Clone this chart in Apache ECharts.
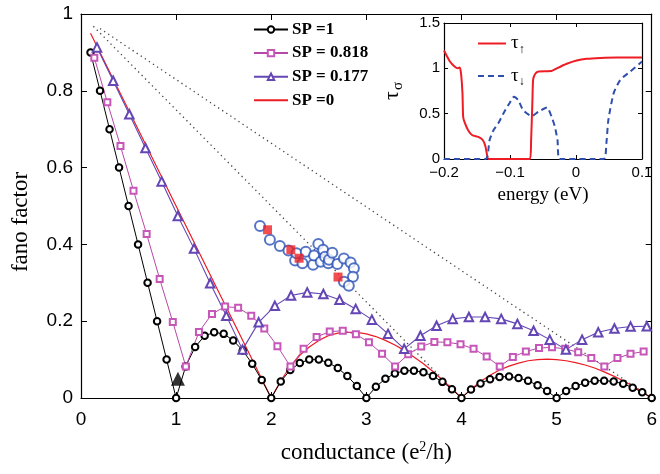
<!DOCTYPE html>
<html><head><meta charset="utf-8">
<script src="https://cdn.jsdelivr.net/npm/echarts@6/dist/echarts.min.js"></script>
<style>html,body{margin:0;padding:0;background:#fff}#c{width:660px;height:474px}</style>
</head><body><div id="c"></div>
<script>
// ---- main panel: SP = 1 (black circles)
const sp1X = [0.1,0.2,0.3,0.4,0.5,0.6,0.7,0.8,0.9,1.0,1.1,1.2,1.3,1.4,1.5,1.6,1.7,1.8,1.9,2.0,2.1,2.2,2.3,2.4,2.5,2.6,2.7,2.8,2.9,3.0,3.1,3.2,3.3,3.4,3.5,3.6,3.7,3.8,3.9,4.0,4.1,4.2,4.3,4.4,4.5,4.6,4.7,4.8,4.9,5.0,5.1,5.2,5.3,5.4,5.5,5.6,5.7,5.8,5.9,6.0];
const sp1Y = [0.9,0.8,0.7,0.6,0.5,0.4,0.3,0.2,0.1,0,0.082,0.133,0.162,0.171,0.167,0.15,0.124,0.089,0.047,0,0.043,0.073,0.091,0.1,0.1,0.092,0.078,0.057,0.031,0,0.029,0.05,0.064,0.071,0.071,0.067,0.057,0.042,0.023,0,0.022,0.038,0.049,0.055,0.056,0.052,0.045,0.033,0.018,0,0.018,0.031,0.04,0.045,0.045,0.043,0.037,0.027,0.015,0];
// SP = 0.818 (magenta squares)
const sp818X = [0.14,0.277,0.415,0.552,0.69,0.827,0.965,1.102,1.24,1.377,1.515,1.652,1.79,1.927,2.065,2.202,2.34,2.477,2.615,2.752,2.89,3.027,3.165,3.302,3.44,3.577,3.715,3.852,3.99,4.127,4.265,4.402,4.54,4.677,4.815,4.952,5.09,5.227,5.365,5.502,5.64,5.777,5.915];
const sp818Y = [0.886,0.77,0.656,0.54,0.427,0.31,0.198,0.082,0.172,0.219,0.238,0.235,0.214,0.181,0.135,0.082,0.128,0.159,0.173,0.175,0.166,0.145,0.115,0.082,0.114,0.134,0.146,0.145,0.14,0.128,0.108,0.082,0.107,0.121,0.13,0.132,0.128,0.119,0.104,0.082,0.104,0.115,0.121];
// SP = 0.177 (purple triangles)
const sp177X = [0.168,0.338,0.508,0.678,0.848,1.018,1.188,1.358,1.528,1.698,1.868,2.038,2.208,2.378,2.548,2.718,2.888,3.058,3.228,3.398,3.568,3.738,3.908,4.078,4.248,4.418,4.588,4.758,4.928,5.098,5.268,5.438,5.608,5.778,5.948];
const sp177Y = [0.913,0.826,0.739,0.651,0.564,0.474,0.389,0.299,0.214,0.126,0.197,0.24,0.267,0.275,0.271,0.256,0.232,0.204,0.167,0.128,0.162,0.188,0.206,0.211,0.211,0.206,0.193,0.175,0.152,0.126,0.152,0.171,0.181,0.186,0.187];
// SP = 0 (red line)
const sp0X = [0.1,2.0,2.1,2.2,2.3,2.4,2.5,2.6,2.7,2.8,2.9,3.0,3.1,3.2,3.3,3.4,3.5,3.6,3.7,3.8,3.9,4.0,4.1,4.2,4.3,4.4,4.5,4.6,4.7,4.8,4.9,5.0,5.1,5.2,5.3,5.4,5.5,5.6,5.7,5.8,5.9,6.0];
const sp0Y = [0.95,0,0.045,0.082,0.111,0.133,0.15,0.162,0.169,0.171,0.171,0.167,0.16,0.15,0.138,0.124,0.107,0.089,0.069,0.047,0.024,0,0.023,0.043,0.059,0.073,0.083,0.091,0.097,0.1,0.101,0.1,0.097,0.092,0.086,0.078,0.068,0.057,0.045,0.031,0.016,0];
// dotted guide lines
const dotInnerX = [0.13, 4.0];
const dotInnerY = [0.968, 0];
const dotOuterX = [0.2, 6.0];
const dotOuterY = [0.962, 0];
// blue open circles
const blueX = [1.882,1.986,2.091,2.181,2.251,2.265,2.328,2.363,2.44,2.45,2.495,2.52,2.545,2.565,2.6,2.607,2.642,2.695,2.764,2.834,2.869,2.859,2.764,2.816];
const blueY = [0.448,0.412,0.396,0.384,0.358,0.377,0.351,0.381,0.347,0.371,0.401,0.355,0.386,0.368,0.351,0.36,0.378,0.349,0.363,0.353,0.338,0.316,0.303,0.292];
// red filled squares
const redSqX = [1.961, 2.206, 2.293, 2.702];
const redSqY = [0.438, 0.386, 0.364, 0.315];
// black filled triangle
const triX = [1.019];
const triY = [0.05];
// ---- inset
const tauUpE = [-0.2,-0.191,-0.184,-0.179,-0.176,-0.174,-0.172,-0.171,-0.169,-0.1635,-0.157,-0.148,-0.141,-0.137,-0.134,-0.132,-0.0698,-0.068,-0.066,-0.065,-0.062,-0.057,-0.044,-0.037,-0.029,-0.014,0.001,0.016,0.037,0.062,0.1];
const tauUp  = [1.197,1.075,1.02,1.0,1.01,0.93,0.724,0.466,0.41,0.318,0.262,0.244,0.207,0.133,0.015,0,0,0.207,0.65,0.872,0.938,0.965,0.968,0.97,1.0,1.05,1.086,1.105,1.115,1.12,1.12];
const tauDnE = [-0.2,-0.137,-0.131,-0.125,-0.118,-0.110,-0.101,-0.094,-0.0875,-0.08,-0.067,-0.057,-0.044,-0.037,-0.032,-0.028,-0.025,0.042,0.046,0.049,0.057,0.067,0.082,0.1];
const tauDn  = [0,0,0.207,0.318,0.39,0.502,0.613,0.687,0.65,0.539,0.473,0.521,0.569,0.466,0.355,0.207,0,0,0.17,0.429,0.724,0.872,0.964,1.075];
// tick values
const mainXTicks = [0,1,2,3,4,5,6];
const mainYTicks = [0,0.2,0.4,0.6,0.8,1];
const insetXTicks = [-0.2,-0.1,0,0.1];
const insetYTicks = [0,0.5,1,1.5];

const zip = (a, b) => a.map((v, i) => [v, b[i]]);
const SANS = 'Liberation Sans, Arial, Helvetica, sans-serif';
const SERIF = 'Liberation Serif, Times New Roman, serif';

const chart = echarts.init(document.getElementById('c'), null, {renderer: 'canvas'});
const mk = (extra, tickLen) => Object.assign({
  type: 'value',
  axisLine: {show: true, onZero: false, lineStyle: {color: '#000', width: 1.2}},
  axisTick: {show: true, inside: true, length: tickLen, lineStyle: {color: '#000', width: 1}},
  splitLine: {show: false}
}, extra);
const fmtInsetX = v => Math.abs(v) < 1e-9 ? '0' : (v < 0 ? '\u2212' : '') + Math.abs(v).toFixed(1);

chart.setOption({
  animation: false,
  backgroundColor: '#fff',
  grid: [
    {left: 81, top: 14, width: 573, height: 384, containLabel: false},
    {left: 444, top: 23, width: 198, height: 136, show: true, backgroundColor: '#fff', borderWidth: 0, z: 5}
  ],
  xAxis: [
    mk({gridIndex: 0, position: 'bottom', min: mainXTicks[0], max: mainXTicks[mainXTicks.length-1], interval: 1,
      axisLabel: {fontFamily: SANS, fontSize: 19, color: '#000', margin: 12},
      name: '{a|conductance (e}{s|2}{a|/h)}', nameLocation: 'middle', nameGap: 42,
      nameTextStyle: {rich: {a: {fontFamily: SERIF, fontSize: 23, color: '#000'}, s: {fontFamily: SERIF, fontSize: 14, color: '#000', padding: [0,0,12,0]}}}
    }, 6),
    mk({gridIndex: 0, position: 'top', min: 0, max: 6, interval: 1, axisLabel: {show: false}}, 6),
    mk({gridIndex: 1, position: 'bottom', min: insetXTicks[0], max: insetXTicks[insetXTicks.length-1], interval: 0.1,
      axisLabel: {fontFamily: SANS, fontSize: 15, color: '#000', margin: 6, formatter: fmtInsetX},
      name: 'energy (eV)', nameLocation: 'middle', nameGap: 27,
      nameTextStyle: {fontFamily: SERIF, fontSize: 19, color: '#000'}, z: 6
    }, 4),
    mk({gridIndex: 1, position: 'top', min: -0.2, max: 0.1, interval: 0.1, axisLabel: {show: false}, z: 6}, 4)
  ],
  yAxis: [
    mk({gridIndex: 0, position: 'left', min: mainYTicks[0], max: mainYTicks[mainYTicks.length-1], interval: 0.2,
      axisLabel: {fontFamily: SANS, fontSize: 19, color: '#000', margin: 8}}, 6),
    mk({gridIndex: 0, position: 'right', min: 0, max: 1, interval: 0.2, axisLabel: {show: false}}, 6),
    mk({gridIndex: 1, position: 'left', min: insetYTicks[0], max: insetYTicks[insetYTicks.length-1], interval: 0.5,
      axisLabel: {fontFamily: SANS, fontSize: 15, color: '#000', margin: 4},
      name: '{a|\u03c4}{s|\u03c3}', nameLocation: 'middle', nameGap: 38,
      nameTextStyle: {rich: {a: {fontFamily: SERIF, fontSize: 22, color: '#000'}, s: {fontFamily: SERIF, fontSize: 15, color: '#000', padding: [12,0,0,1]}}}, z: 6
    }, 4),
    mk({gridIndex: 1, position: 'right', min: 0, max: 1.5, interval: 0.5, axisLabel: {show: false}, z: 6}, 4)
  ],
  legend: [
    {
      data: ['SP =1', 'SP = 0.818', 'SP = 0.177', {name: 'SP =0', itemStyle: {opacity: 0}}],
      orient: 'vertical', left: 248, top: 16, itemWidth: 34, itemHeight: 8, itemGap: 6.6,
      textStyle: {fontFamily: SERIF, fontWeight: 'bold', fontSize: 17, color: '#000', lineHeight: 14, padding: [0,0,0,-1]},
      selectedMode: false
    },
    {
      data: [{name: '\u03c4\u2191', itemStyle: {opacity: 0}}, {name: '\u03c4\u2193', itemStyle: {opacity: 0}}],
      orient: 'vertical', left: 472, top: 29, itemWidth: 28, itemHeight: 20, itemGap: 11,
      selectedMode: false,
      formatter: n => '{a|\u03c4}{s|' + n.slice(1) + '}',
      textStyle: {rich: {a: {fontFamily: SERIF, fontSize: 19, color: '#000'}, s: {fontFamily: SANS, fontSize: 12, color: '#000', padding: [12,0,0,0]}}},
      z: 7
    }
  ],
  graphic: [
    {type: 'text', x: 21, y: 222, rotation: Math.PI/2, z: 10,
      style: {text: 'fano factor', font: '23px ' + SERIF, fill: '#000', textAlign: 'center', textVerticalAlign: 'middle'}}
  ],
  series: [
    {name: 'dotInner', type: 'line', xAxisIndex: 0, yAxisIndex: 0, data: zip(dotInnerX, dotInnerY), showSymbol: false, symbol: 'none',
      lineStyle: {color: '#444', width: 1.3, type: [1.3, 3.6]}, z: 1, silent: true},
    {name: 'dotOuter', type: 'line', xAxisIndex: 0, yAxisIndex: 0, data: zip(dotOuterX, dotOuterY), showSymbol: false, symbol: 'none',
      lineStyle: {color: '#444', width: 1.3, type: [1.3, 3.6]}, z: 1, silent: true},
    {name: 'SP =0', type: 'line', xAxisIndex: 0, yAxisIndex: 0, data: zip(sp0X, sp0Y), symbol: 'none',
      lineStyle: {color: '#ec1c24', width: 1.2}, itemStyle: {color: '#ec1c24'}, z: 3},
    {name: 'SP =1', type: 'line', xAxisIndex: 0, yAxisIndex: 0, data: zip(sp1X, sp1Y), symbol: 'emptyCircle', symbolSize: 6.5,
      lineStyle: {color: '#000', width: 1}, itemStyle: {color: '#000', borderWidth: 0.9}, z: 4},
    {name: 'SP = 0.818', type: 'line', xAxisIndex: 0, yAxisIndex: 0, data: zip(sp818X, sp818Y), symbol: 'emptyRect', symbolSize: 6,
      lineStyle: {color: '#b848a8', width: 1}, itemStyle: {color: '#c656b8', borderWidth: 1}, z: 4},
    {name: 'SP = 0.177', type: 'line', xAxisIndex: 0, yAxisIndex: 0, data: zip(sp177X, sp177Y), symbol: 'emptyTriangle', symbolSize: 8.5,
      lineStyle: {color: '#6446b4', width: 1.1}, itemStyle: {color: '#6446b4', borderWidth: 1}, z: 4},
    {name: 'blue', type: 'scatter', xAxisIndex: 0, yAxisIndex: 0, data: zip(blueX, blueY), symbol: 'emptyCircle', symbolSize: 10,
      itemStyle: {color: '#2c52b8', borderWidth: 1.2}, z: 5},
    {name: 'redsq', type: 'scatter', xAxisIndex: 0, yAxisIndex: 0, data: zip(redSqX, redSqY), symbol: 'rect', symbolSize: 9,
      itemStyle: {color: '#ee2226'}, z: 6},
    {name: 'tri', type: 'scatter', xAxisIndex: 0, yAxisIndex: 0, data: zip(triX, triY), symbol: 'triangle', symbolSize: 14,
      itemStyle: {color: '#000'}, z: 6},
    {name: '\u03c4\u2191', type: 'line', xAxisIndex: 2, yAxisIndex: 2, data: zip(tauUpE, tauUp), symbol: 'none', smooth: 0.2,
      lineStyle: {color: '#ee1c25', width: 2}, itemStyle: {color: '#ee1c25'}, z: 7},
    {name: '\u03c4\u2193', type: 'line', xAxisIndex: 2, yAxisIndex: 2, data: zip(tauDnE, tauDn), symbol: 'none', smooth: 0.2,
      lineStyle: {color: '#2f4fae', width: 2, type: [6, 4]}, itemStyle: {color: '#2f4fae'}, z: 7}
  ]
});
</script>
</body></html>
